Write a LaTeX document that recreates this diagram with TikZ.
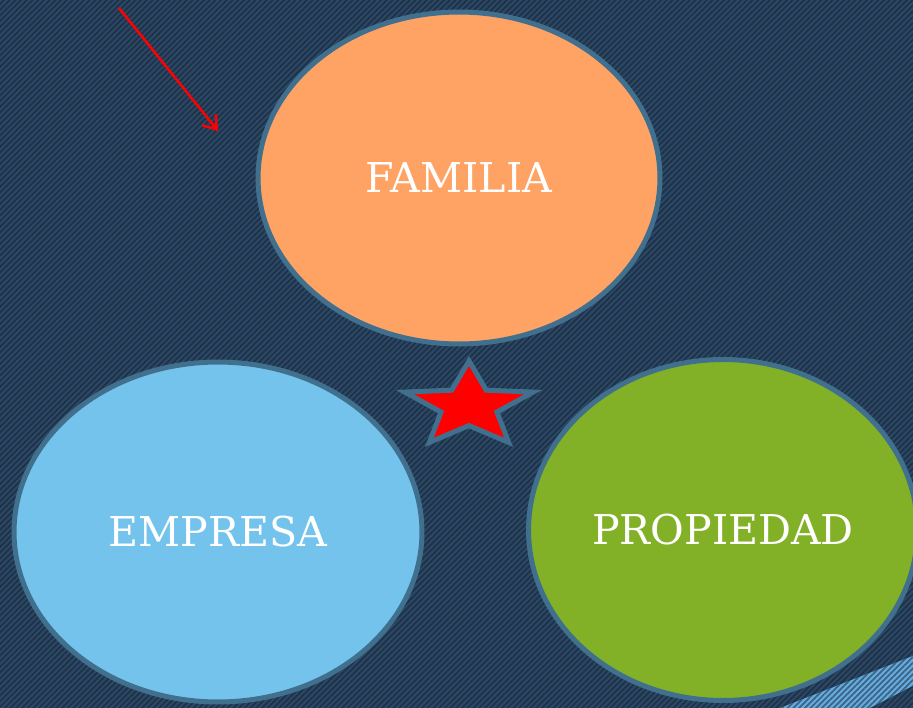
\documentclass[tikz,border=0pt]{standalone}
\usepackage{fontspec}
\setmainfont{DejaVu Serif}
\usetikzlibrary{shapes.geometric,arrows.meta,patterns.meta}
\definecolor{slide}{HTML}{2C4866}
\definecolor{slideline}{HTML}{1E3247}
\definecolor{rim}{HTML}{41708F}
\definecolor{orangefill}{HTML}{FFA364}
\definecolor{bluefill}{HTML}{74C3EC}
\definecolor{greenfill}{HTML}{82B127}
\definecolor{bandblue}{HTML}{66ADDF}
\begin{document}
\begin{tikzpicture}[x=.02cm, y=-.02cm,
	circ/.style={ellipse, draw=rim, line width=.1cm, text=white, font=\fontsize{23.4}{28}\selectfont},
	stripes/.style={pattern={Lines[angle=45, distance=2.3pt, line width=1pt]}, pattern color=#1}]
	\useasboundingbox (0,0) rectangle (913,707);
	\fill[slide]             (-5,-5) rectangle (918,712);
	\fill[stripes=slideline] (-5,-5) rectangle (918,712);
	% band bottom right
	\fill[bandblue]                      (770,712) -- (918,654) -- (918,683) -- (862,712) -- cycle;
	\fill[stripes=slideline!60!bandblue] (770,712) -- (918,654) -- (918,683) -- (862,712) -- cycle;
	\node[circ, fill=orangefill, minimum width=8.04cm, minimum height=6.64cm] (familia)   at (459,178) {FAMILIA};
	\node[circ, fill=bluefill,   minimum width=8.16cm, minimum height=6.8cm]  (empresa)   at (218,532) {EMPRESA};
	\node[circ, fill=greenfill,  minimum width=7.78cm, minimum height=6.82cm] (propiedad) at (723,530) {PROPIEDAD};
	\node[star, star points=5, star point ratio=2.3, minimum size=1.8cm, inner sep=0pt,
	      draw=rim, fill=red, line width=.1cm, xscale=1.5, transform shape] (estrella) at (469,406) {};
	% arrow top left
	\coordinate (flecha1) at (119,8);
	\coordinate (flecha2) at (218,131);
	\draw[red, line width=.05cm, -{Straight Barb[length=7pt, width=10pt]}] (flecha1) -- (flecha2);
\end{tikzpicture}
\end{document}
